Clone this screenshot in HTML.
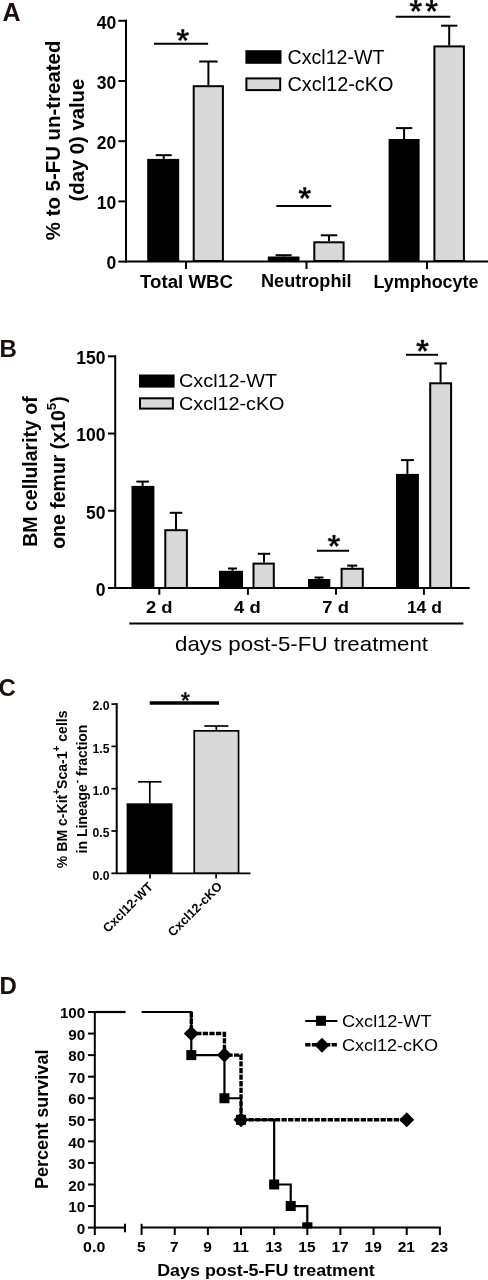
<!DOCTYPE html>
<html><head><meta charset="utf-8"><style>
html,body{margin:0;padding:0;background:#fff;overflow:hidden;}
svg{display:block;will-change:transform;}
text{font-family:"Liberation Sans",sans-serif;}
</style></head><body>
<svg width="488" height="1280" viewBox="0 0 488 1280">
<rect width="488" height="1280" fill="#fff"/>
<text x="2.5" y="20.9" font-size="25" font-weight="bold" text-anchor="start" fill="#1a1010" >A</text>
<line x1="126" y1="19.7" x2="126" y2="262.6" stroke="#000" stroke-width="2" />
<line x1="118.4" y1="261.6" x2="127" y2="261.6" stroke="#000" stroke-width="2" />
<text x="116.3" y="269.3" font-size="17.5" font-weight="bold" text-anchor="end" fill="#000" >0</text>
<line x1="118.4" y1="201.40000000000003" x2="127" y2="201.40000000000003" stroke="#000" stroke-width="2" />
<text x="116.3" y="209.10000000000002" font-size="17.5" font-weight="bold" text-anchor="end" fill="#000" >10</text>
<line x1="118.4" y1="141.20000000000005" x2="127" y2="141.20000000000005" stroke="#000" stroke-width="2" />
<text x="116.3" y="148.90000000000003" font-size="17.5" font-weight="bold" text-anchor="end" fill="#000" >20</text>
<line x1="118.4" y1="81.00000000000003" x2="127" y2="81.00000000000003" stroke="#000" stroke-width="2" />
<text x="116.3" y="88.70000000000003" font-size="17.5" font-weight="bold" text-anchor="end" fill="#000" >30</text>
<line x1="118.4" y1="20.80000000000004" x2="127" y2="20.80000000000004" stroke="#000" stroke-width="2" />
<text x="116.3" y="28.50000000000004" font-size="17.5" font-weight="bold" text-anchor="end" fill="#000" >40</text>
<line x1="125" y1="261.6" x2="488" y2="261.6" stroke="#000" stroke-width="2" />
<line x1="186" y1="261.6" x2="186" y2="269" stroke="#000" stroke-width="2" />
<line x1="306.5" y1="261.6" x2="306.5" y2="269" stroke="#000" stroke-width="2" />
<line x1="427" y1="261.6" x2="427" y2="269" stroke="#000" stroke-width="2" />
<line x1="163.7" y1="158.9" x2="163.7" y2="155.2" stroke="#000" stroke-width="2" />
<line x1="155.7" y1="155.2" x2="171.7" y2="155.2" stroke="#000" stroke-width="2" />
<rect x="147.2" y="158.9" width="32.00" height="103.10" fill="#000"/>
<line x1="208.4" y1="85.2" x2="208.4" y2="61.5" stroke="#000" stroke-width="2" />
<line x1="199.20000000000002" y1="61.5" x2="217.6" y2="61.5" stroke="#000" stroke-width="2" />
<rect x="193.70" y="86.20" width="29.20" height="174.80" fill="#d9d9d9" stroke="#000" stroke-width="2"/>
<line x1="283.6" y1="256.5" x2="283.6" y2="255.2" stroke="#000" stroke-width="2" />
<line x1="275.6" y1="255.2" x2="291.6" y2="255.2" stroke="#000" stroke-width="2" />
<rect x="267.8" y="256.5" width="31.70" height="5.50" fill="#000"/>
<line x1="329" y1="241.3" x2="329" y2="235.3" stroke="#000" stroke-width="2" />
<line x1="320.75" y1="235.3" x2="337.25" y2="235.3" stroke="#000" stroke-width="2" />
<rect x="314.30" y="242.30" width="29.30" height="18.70" fill="#d9d9d9" stroke="#000" stroke-width="2"/>
<line x1="404.1" y1="139" x2="404.1" y2="128.1" stroke="#000" stroke-width="2" />
<line x1="395.90000000000003" y1="128.1" x2="412.3" y2="128.1" stroke="#000" stroke-width="2" />
<rect x="388.6" y="139" width="31.00" height="123.00" fill="#000"/>
<line x1="449.2" y1="45.4" x2="449.2" y2="25.7" stroke="#000" stroke-width="2" />
<line x1="441.05" y1="25.7" x2="457.34999999999997" y2="25.7" stroke="#000" stroke-width="2" />
<rect x="434.40" y="46.40" width="29.50" height="214.60" fill="#d9d9d9" stroke="#000" stroke-width="2"/>
<line x1="154" y1="43.8" x2="208.1" y2="43.8" stroke="#000" stroke-width="2" />
<path d="M183.50,35.30 L184.15,29.50 L181.45,29.50 L182.10,35.30ZM183.02,35.97 L188.73,34.79 L187.90,32.22 L182.58,34.63ZM182.23,35.71 L185.12,40.79 L187.30,39.20 L183.37,34.89ZM182.23,34.89 L178.30,39.20 L180.48,40.79 L183.37,35.71ZM183.02,34.63 L177.70,32.22 L176.87,34.79 L182.58,35.97Z" fill="#000" stroke="#000" stroke-width="0.5" stroke-linejoin="round"/>
<circle cx="182.8" cy="35.3" r="1.30" fill="#000"/>
<line x1="276.4" y1="205.9" x2="331.3" y2="205.9" stroke="#000" stroke-width="2" />
<path d="M305.50,193.20 L306.15,187.40 L303.45,187.40 L304.10,193.20ZM305.02,193.87 L310.73,192.69 L309.90,190.12 L304.58,192.53ZM304.23,193.61 L307.12,198.69 L309.30,197.10 L305.37,192.79ZM304.23,192.79 L300.30,197.10 L302.48,198.69 L305.37,193.61ZM305.02,192.53 L299.70,190.12 L298.87,192.69 L304.58,193.87Z" fill="#000" stroke="#000" stroke-width="0.5" stroke-linejoin="round"/>
<circle cx="304.8" cy="193.2" r="1.30" fill="#000"/>
<line x1="395.7" y1="16.8" x2="450.3" y2="16.8" stroke="#000" stroke-width="2" />
<path d="M416.50,6.10 L417.15,0.30 L414.45,0.30 L415.10,6.10ZM416.02,6.77 L421.73,5.59 L420.90,3.02 L415.58,5.43ZM415.23,6.51 L418.12,11.59 L420.30,10.00 L416.37,5.69ZM415.23,5.69 L411.30,10.00 L413.48,11.59 L416.37,6.51ZM416.02,5.43 L410.70,3.02 L409.87,5.59 L415.58,6.77Z" fill="#000" stroke="#000" stroke-width="0.5" stroke-linejoin="round"/>
<circle cx="415.8" cy="6.1" r="1.30" fill="#000"/>
<path d="M432.30,6.10 L432.95,0.30 L430.25,0.30 L430.90,6.10ZM431.82,6.77 L437.53,5.59 L436.70,3.02 L431.38,5.43ZM431.03,6.51 L433.92,11.59 L436.10,10.00 L432.17,5.69ZM431.03,5.69 L427.10,10.00 L429.28,11.59 L432.17,6.51ZM431.82,5.43 L426.50,3.02 L425.67,5.59 L431.38,6.77Z" fill="#000" stroke="#000" stroke-width="0.5" stroke-linejoin="round"/>
<circle cx="431.6" cy="6.1" r="1.30" fill="#000"/>
<rect x="245.4" y="50.2" width="36.10" height="13.60" fill="#000"/>
<rect x="246.40" y="78.40" width="33.80" height="11.70" fill="#d9d9d9" stroke="#000" stroke-width="2"/>
<text x="287.5" y="63.8" font-size="19.5" font-weight="normal" text-anchor="start" fill="#000" textLength="97" lengthAdjust="spacingAndGlyphs" >Cxcl12-WT</text>
<text x="287.5" y="91.3" font-size="19.5" font-weight="normal" text-anchor="start" fill="#000" textLength="106" lengthAdjust="spacingAndGlyphs" >Cxcl12-cKO</text>
<text x="140" y="287.5" font-size="17.5" font-weight="bold" text-anchor="start" fill="#000" textLength="93" lengthAdjust="spacingAndGlyphs" >Total WBC</text>
<text x="261" y="287" font-size="17.5" font-weight="bold" text-anchor="start" fill="#000" textLength="90.5" lengthAdjust="spacingAndGlyphs" >Neutrophil</text>
<text x="373.5" y="287.7" font-size="17.5" font-weight="bold" text-anchor="start" fill="#000" textLength="105" lengthAdjust="spacingAndGlyphs" >Lymphocyte</text>
<text x="60.3" y="140.4" font-size="20.3" font-weight="bold" text-anchor="middle" fill="#000" textLength="199.5" lengthAdjust="spacingAndGlyphs" transform="rotate(-90 60.3 140.4)" >% to 5-FU un-treated</text>
<text x="83.6" y="140.1" font-size="20.3" font-weight="bold" text-anchor="middle" fill="#000" textLength="122.6" lengthAdjust="spacingAndGlyphs" transform="rotate(-90 83.6 140.1)" >(day 0) value</text>
<text x="-0.5" y="356.6" font-size="24" font-weight="bold" text-anchor="start" fill="#1a1010" >B</text>
<line x1="115.2" y1="355.4" x2="115.2" y2="589" stroke="#000" stroke-width="2" />
<line x1="108" y1="588.0" x2="116" y2="588.0" stroke="#000" stroke-width="2" />
<text x="105.5" y="595.9" font-size="17.5" font-weight="bold" text-anchor="end" fill="#000" >0</text>
<line x1="108" y1="510.765" x2="116" y2="510.765" stroke="#000" stroke-width="2" />
<text x="105.5" y="518.665" font-size="17.5" font-weight="bold" text-anchor="end" fill="#000" >50</text>
<line x1="108" y1="433.53" x2="116" y2="433.53" stroke="#000" stroke-width="2" />
<text x="105.5" y="441.42999999999995" font-size="17.5" font-weight="bold" text-anchor="end" fill="#000" >100</text>
<line x1="108" y1="356.295" x2="116" y2="356.295" stroke="#000" stroke-width="2" />
<text x="105.5" y="364.195" font-size="17.5" font-weight="bold" text-anchor="end" fill="#000" >150</text>
<line x1="114.2" y1="588" x2="469.7" y2="588" stroke="#000" stroke-width="2" />
<line x1="159.3" y1="588" x2="159.3" y2="594.8" stroke="#000" stroke-width="2" />
<line x1="247.9" y1="588" x2="247.9" y2="594.8" stroke="#000" stroke-width="2" />
<line x1="336" y1="588" x2="336" y2="594.8" stroke="#000" stroke-width="2" />
<line x1="423.9" y1="588" x2="423.9" y2="594.8" stroke="#000" stroke-width="2" />
<line x1="142.6" y1="485.9" x2="142.6" y2="481.6" stroke="#000" stroke-width="2" />
<line x1="136.35" y1="481.6" x2="148.85" y2="481.6" stroke="#000" stroke-width="2" />
<rect x="131.5" y="485.9" width="22.90" height="103.10" fill="#000"/>
<line x1="176" y1="529.2" x2="176" y2="512.8" stroke="#000" stroke-width="2" />
<line x1="169.75" y1="512.8" x2="182.25" y2="512.8" stroke="#000" stroke-width="2" />
<rect x="165.30" y="530.20" width="21.60" height="57.80" fill="#d9d9d9" stroke="#000" stroke-width="2"/>
<line x1="232.5" y1="570.8" x2="232.5" y2="568.5" stroke="#000" stroke-width="2" />
<line x1="228.0" y1="568.5" x2="237.0" y2="568.5" stroke="#000" stroke-width="2" />
<rect x="219" y="570.8" width="24.00" height="18.20" fill="#000"/>
<line x1="264" y1="562.6" x2="264" y2="553.8" stroke="#000" stroke-width="2" />
<line x1="257.75" y1="553.8" x2="270.25" y2="553.8" stroke="#000" stroke-width="2" />
<rect x="253.50" y="563.60" width="20.30" height="24.40" fill="#d9d9d9" stroke="#000" stroke-width="2"/>
<line x1="319" y1="579" x2="319" y2="577.5" stroke="#000" stroke-width="2" />
<line x1="314.5" y1="577.5" x2="323.5" y2="577.5" stroke="#000" stroke-width="2" />
<rect x="308" y="579" width="22.30" height="10.00" fill="#000"/>
<line x1="352.2" y1="567.8" x2="352.2" y2="565.6" stroke="#000" stroke-width="2" />
<line x1="347.2" y1="565.6" x2="357.2" y2="565.6" stroke="#000" stroke-width="2" />
<rect x="341.60" y="568.80" width="21.20" height="19.20" fill="#d9d9d9" stroke="#000" stroke-width="2"/>
<line x1="407.4" y1="473.9" x2="407.4" y2="460.1" stroke="#000" stroke-width="2" />
<line x1="400.9" y1="460.1" x2="413.9" y2="460.1" stroke="#000" stroke-width="2" />
<rect x="396" y="473.9" width="22.90" height="115.10" fill="#000"/>
<line x1="440.6" y1="382.3" x2="440.6" y2="363.4" stroke="#000" stroke-width="2" />
<line x1="434.25" y1="363.4" x2="446.95000000000005" y2="363.4" stroke="#000" stroke-width="2" />
<rect x="430.20" y="383.30" width="20.90" height="204.70" fill="#d9d9d9" stroke="#000" stroke-width="2"/>
<line x1="316.9" y1="550.8" x2="349" y2="550.8" stroke="#000" stroke-width="2" />
<path d="M334.70,541.10 L335.35,535.30 L332.65,535.30 L333.30,541.10ZM334.22,541.77 L339.93,540.59 L339.10,538.02 L333.78,540.43ZM333.43,541.51 L336.32,546.59 L338.50,545.00 L334.57,540.69ZM333.43,540.69 L329.50,545.00 L331.68,546.59 L334.57,541.51ZM334.22,540.43 L328.90,538.02 L328.07,540.59 L333.78,541.77Z" fill="#000" stroke="#000" stroke-width="0.5" stroke-linejoin="round"/>
<circle cx="334" cy="541.1" r="1.30" fill="#000"/>
<line x1="406" y1="354.8" x2="438" y2="354.8" stroke="#000" stroke-width="2" />
<path d="M423.20,345.90 L423.85,340.10 L421.15,340.10 L421.80,345.90ZM422.72,346.57 L428.43,345.39 L427.60,342.82 L422.28,345.23ZM421.93,346.31 L424.82,351.39 L427.00,349.80 L423.07,345.49ZM421.93,345.49 L418.00,349.80 L420.18,351.39 L423.07,346.31ZM422.72,345.23 L417.40,342.82 L416.57,345.39 L422.28,346.57Z" fill="#000" stroke="#000" stroke-width="0.5" stroke-linejoin="round"/>
<circle cx="422.5" cy="345.9" r="1.30" fill="#000"/>
<rect x="139" y="374.5" width="35.60" height="13.10" fill="#000"/>
<rect x="140.00" y="398.30" width="32.90" height="10.30" fill="#d9d9d9" stroke="#000" stroke-width="2"/>
<text x="179" y="387.3" font-size="18.5" font-weight="normal" text-anchor="start" fill="#000" textLength="98" lengthAdjust="spacingAndGlyphs" >Cxcl12-WT</text>
<text x="179" y="409.8" font-size="18.5" font-weight="normal" text-anchor="start" fill="#000" textLength="105.5" lengthAdjust="spacingAndGlyphs" >Cxcl12-cKO</text>
<text x="159.2" y="612.7" font-size="17" font-weight="bold" text-anchor="middle" fill="#000" textLength="26.6" lengthAdjust="spacingAndGlyphs" >2 d</text>
<text x="247.4" y="612.7" font-size="17" font-weight="bold" text-anchor="middle" fill="#000" textLength="26.6" lengthAdjust="spacingAndGlyphs" >4 d</text>
<text x="335.6" y="612.7" font-size="17" font-weight="bold" text-anchor="middle" fill="#000" textLength="26.6" lengthAdjust="spacingAndGlyphs" >7 d</text>
<text x="424.4" y="612.7" font-size="17" font-weight="bold" text-anchor="middle" fill="#000" textLength="35" lengthAdjust="spacingAndGlyphs" >14 d</text>
<line x1="129.3" y1="623.6" x2="463.4" y2="623.6" stroke="#000" stroke-width="2" />
<text x="175" y="650.8" font-size="20.6" font-weight="normal" text-anchor="start" fill="#000" textLength="253" lengthAdjust="spacingAndGlyphs" >days post-5-FU treatment</text>
<text x="37.4" y="471.5" font-size="20" font-weight="bold" text-anchor="middle" fill="#000" textLength="150.5" lengthAdjust="spacingAndGlyphs" transform="rotate(-90 37.4 471.5)" >BM cellularity of</text>
<text x="65.2" y="472.5" font-size="19.5" font-weight="bold" text-anchor="middle" fill="#000" transform="rotate(-90 65.2 472.5)" >one femur (x10<tspan dy="-9.4" font-size="13.5">5</tspan><tspan dy="9.4">)</tspan></text>
<text x="-1.5" y="696" font-size="24" font-weight="bold" text-anchor="start" fill="#1a1010" >C</text>
<line x1="116.7" y1="703.3" x2="116.7" y2="874" stroke="#000" stroke-width="2" />
<line x1="111.4" y1="873.3" x2="117.5" y2="873.3" stroke="#000" stroke-width="1.7" />
<text x="109.5" y="879.5999999999999" font-size="12.2" font-weight="bold" text-anchor="end" fill="#000" >0.0</text>
<line x1="111.4" y1="831.0" x2="117.5" y2="831.0" stroke="#000" stroke-width="1.7" />
<text x="109.5" y="837.3" font-size="12.2" font-weight="bold" text-anchor="end" fill="#000" >0.5</text>
<line x1="111.4" y1="788.6999999999999" x2="117.5" y2="788.6999999999999" stroke="#000" stroke-width="1.7" />
<text x="109.5" y="794.9999999999999" font-size="12.2" font-weight="bold" text-anchor="end" fill="#000" >1.0</text>
<line x1="111.4" y1="746.4" x2="117.5" y2="746.4" stroke="#000" stroke-width="1.7" />
<text x="109.5" y="752.6999999999999" font-size="12.2" font-weight="bold" text-anchor="end" fill="#000" >1.5</text>
<line x1="111.4" y1="704.0999999999999" x2="117.5" y2="704.0999999999999" stroke="#000" stroke-width="1.7" />
<text x="109.5" y="710.3999999999999" font-size="12.2" font-weight="bold" text-anchor="end" fill="#000" >2.0</text>
<line x1="116" y1="873.3" x2="250.5" y2="873.3" stroke="#000" stroke-width="1.7" />
<line x1="150" y1="873.3" x2="150" y2="878.6" stroke="#000" stroke-width="1.7" />
<line x1="216.1" y1="873.3" x2="216.1" y2="878.6" stroke="#000" stroke-width="1.7" />
<line x1="149.8" y1="803.3" x2="149.8" y2="781.8" stroke="#000" stroke-width="1.7" />
<line x1="138.05" y1="781.8" x2="161.55" y2="781.8" stroke="#000" stroke-width="1.7" />
<rect x="126.6" y="803.3" width="45.90" height="70.70" fill="#000"/>
<line x1="216.3" y1="730" x2="216.3" y2="726" stroke="#000" stroke-width="1.7" />
<line x1="204.3" y1="726" x2="228.3" y2="726" stroke="#000" stroke-width="1.7" />
<rect x="194.25" y="730.85" width="44.30" height="142.30" fill="#d9d9d9" stroke="#000" stroke-width="1.7"/>
<line x1="149.7" y1="703" x2="219" y2="703" stroke="#000" stroke-width="3.3" />
<path d="M185.85,696.70 L186.31,692.53 L184.39,692.53 L184.85,696.70ZM185.50,697.17 L189.62,696.32 L189.02,694.50 L185.20,696.23ZM184.95,696.99 L187.03,700.64 L188.58,699.51 L185.75,696.41ZM184.95,696.41 L182.12,699.51 L183.67,700.64 L185.75,696.99ZM185.50,696.23 L181.68,694.50 L181.08,696.32 L185.20,697.17Z" fill="#000" stroke="#000" stroke-width="0.5" stroke-linejoin="round"/>
<circle cx="185.35" cy="696.7" r="0.93" fill="#000"/>
<text x="67.2" y="789.3" font-size="14.05" font-weight="bold" text-anchor="middle" fill="#000" transform="rotate(-90 67.2 789.3)" >% BM c-Kit<tspan dy="-7.6" font-size="10">+</tspan><tspan dy="7.6">Sca-1</tspan><tspan dy="-7.6" font-size="10">+</tspan><tspan dy="7.6"> cells</tspan></text>
<text x="87" y="789" font-size="14.0" font-weight="bold" text-anchor="middle" fill="#000" transform="rotate(-90 87 789)" >in Lineage<tspan dx="1" dy="-6.6" font-size="10">-</tspan><tspan dy="6.6"> fraction</tspan></text>
<text x="153.6" y="887.6" font-size="12.6" font-weight="bold" text-anchor="end" fill="#000" transform="rotate(-45 153.6 887.6)" >Cxcl12-WT</text>
<text x="223" y="887.2" font-size="12.6" font-weight="bold" text-anchor="end" fill="#000" transform="rotate(-45 223 887.2)" >Cxcl12-cKO</text>
<text x="-0.5" y="993.6" font-size="24" font-weight="bold" text-anchor="start" fill="#1a1010" >D</text>
<line x1="94.8" y1="1011" x2="94.8" y2="1235" stroke="#000" stroke-width="2" />
<line x1="88" y1="1227.6" x2="95.5" y2="1227.6" stroke="#000" stroke-width="2" />
<text x="85.3" y="1233.8" font-size="15.5" font-weight="bold" text-anchor="end" fill="#000" textLength="8.46" lengthAdjust="spacingAndGlyphs" >0</text>
<line x1="88" y1="1206.04" x2="95.5" y2="1206.04" stroke="#000" stroke-width="2" />
<text x="85.3" y="1212.24" font-size="15.5" font-weight="bold" text-anchor="end" fill="#000" textLength="16.94" lengthAdjust="spacingAndGlyphs" >10</text>
<line x1="88" y1="1184.48" x2="95.5" y2="1184.48" stroke="#000" stroke-width="2" />
<text x="85.3" y="1190.68" font-size="15.5" font-weight="bold" text-anchor="end" fill="#000" textLength="16.94" lengthAdjust="spacingAndGlyphs" >20</text>
<line x1="88" y1="1162.9199999999998" x2="95.5" y2="1162.9199999999998" stroke="#000" stroke-width="2" />
<text x="85.3" y="1169.12" font-size="15.5" font-weight="bold" text-anchor="end" fill="#000" textLength="16.94" lengthAdjust="spacingAndGlyphs" >30</text>
<line x1="88" y1="1141.36" x2="95.5" y2="1141.36" stroke="#000" stroke-width="2" />
<text x="85.3" y="1147.56" font-size="15.5" font-weight="bold" text-anchor="end" fill="#000" textLength="16.94" lengthAdjust="spacingAndGlyphs" >40</text>
<line x1="88" y1="1119.8" x2="95.5" y2="1119.8" stroke="#000" stroke-width="2" />
<text x="85.3" y="1126.0" font-size="15.5" font-weight="bold" text-anchor="end" fill="#000" textLength="16.94" lengthAdjust="spacingAndGlyphs" >50</text>
<line x1="88" y1="1098.2399999999998" x2="95.5" y2="1098.2399999999998" stroke="#000" stroke-width="2" />
<text x="85.3" y="1104.4399999999998" font-size="15.5" font-weight="bold" text-anchor="end" fill="#000" textLength="16.94" lengthAdjust="spacingAndGlyphs" >60</text>
<line x1="88" y1="1076.6799999999998" x2="95.5" y2="1076.6799999999998" stroke="#000" stroke-width="2" />
<text x="85.3" y="1082.8799999999999" font-size="15.5" font-weight="bold" text-anchor="end" fill="#000" textLength="16.94" lengthAdjust="spacingAndGlyphs" >70</text>
<line x1="88" y1="1055.12" x2="95.5" y2="1055.12" stroke="#000" stroke-width="2" />
<text x="85.3" y="1061.32" font-size="15.5" font-weight="bold" text-anchor="end" fill="#000" textLength="16.94" lengthAdjust="spacingAndGlyphs" >80</text>
<line x1="88" y1="1033.56" x2="95.5" y2="1033.56" stroke="#000" stroke-width="2" />
<text x="85.3" y="1039.76" font-size="15.5" font-weight="bold" text-anchor="end" fill="#000" textLength="16.94" lengthAdjust="spacingAndGlyphs" >90</text>
<line x1="88" y1="1011.9999999999999" x2="95.5" y2="1011.9999999999999" stroke="#000" stroke-width="2" />
<text x="85.3" y="1018.1999999999999" font-size="15.5" font-weight="bold" text-anchor="end" fill="#000" textLength="25.4" lengthAdjust="spacingAndGlyphs" >100</text>
<line x1="94" y1="1227.6" x2="125" y2="1227.6" stroke="#000" stroke-width="2" />
<line x1="125" y1="1223.8" x2="125" y2="1232.2" stroke="#000" stroke-width="2" />
<line x1="141.6" y1="1227.6" x2="440.8" y2="1227.6" stroke="#000" stroke-width="2" />
<line x1="141.6" y1="1223.8" x2="141.6" y2="1235" stroke="#000" stroke-width="2" />
<line x1="174.74" y1="1227.6" x2="174.74" y2="1235" stroke="#000" stroke-width="2" />
<line x1="207.88" y1="1227.6" x2="207.88" y2="1235" stroke="#000" stroke-width="2" />
<line x1="241.01999999999998" y1="1227.6" x2="241.01999999999998" y2="1235" stroke="#000" stroke-width="2" />
<line x1="274.15999999999997" y1="1227.6" x2="274.15999999999997" y2="1235" stroke="#000" stroke-width="2" />
<line x1="307.29999999999995" y1="1227.6" x2="307.29999999999995" y2="1235" stroke="#000" stroke-width="2" />
<line x1="340.44" y1="1227.6" x2="340.44" y2="1235" stroke="#000" stroke-width="2" />
<line x1="373.58000000000004" y1="1227.6" x2="373.58000000000004" y2="1235" stroke="#000" stroke-width="2" />
<line x1="406.72" y1="1227.6" x2="406.72" y2="1235" stroke="#000" stroke-width="2" />
<line x1="439.86" y1="1227.6" x2="439.86" y2="1235" stroke="#000" stroke-width="2" />
<text x="83.1" y="1251.7" font-size="15.5" font-weight="bold" text-anchor="start" fill="#000" textLength="22.18" lengthAdjust="spacingAndGlyphs" >0.0</text>
<text x="141.2" y="1251.7" font-size="15.5" font-weight="bold" text-anchor="middle" fill="#000" textLength="8.62" lengthAdjust="spacingAndGlyphs" >5</text>
<text x="174.34" y="1251.7" font-size="15.5" font-weight="bold" text-anchor="middle" fill="#000" textLength="8.62" lengthAdjust="spacingAndGlyphs" >7</text>
<text x="207.48" y="1251.7" font-size="15.5" font-weight="bold" text-anchor="middle" fill="#000" textLength="8.62" lengthAdjust="spacingAndGlyphs" >9</text>
<text x="240.61999999999998" y="1251.7" font-size="15.5" font-weight="bold" text-anchor="middle" fill="#000" textLength="16.4" lengthAdjust="spacingAndGlyphs" >11</text>
<text x="273.76" y="1251.7" font-size="15.5" font-weight="bold" text-anchor="middle" fill="#000" textLength="17.26" lengthAdjust="spacingAndGlyphs" >13</text>
<text x="306.9" y="1251.7" font-size="15.5" font-weight="bold" text-anchor="middle" fill="#000" textLength="17.26" lengthAdjust="spacingAndGlyphs" >15</text>
<text x="340.04" y="1251.7" font-size="15.5" font-weight="bold" text-anchor="middle" fill="#000" textLength="17.26" lengthAdjust="spacingAndGlyphs" >17</text>
<text x="373.18000000000006" y="1251.7" font-size="15.5" font-weight="bold" text-anchor="middle" fill="#000" textLength="17.26" lengthAdjust="spacingAndGlyphs" >19</text>
<text x="406.32000000000005" y="1251.7" font-size="15.5" font-weight="bold" text-anchor="middle" fill="#000" textLength="17.26" lengthAdjust="spacingAndGlyphs" >21</text>
<text x="439.46000000000004" y="1251.7" font-size="15.5" font-weight="bold" text-anchor="middle" fill="#000" textLength="17.26" lengthAdjust="spacingAndGlyphs" >23</text>
<text x="157.2" y="1275.5" font-size="17" font-weight="bold" text-anchor="start" fill="#000" textLength="217.6" lengthAdjust="spacingAndGlyphs" >Days post-5-FU treatment</text>
<text x="48.1" y="1119.3" font-size="17.5" font-weight="bold" text-anchor="middle" fill="#000" textLength="139.5" lengthAdjust="spacingAndGlyphs" transform="rotate(-90 48.1 1119.3)" >Percent survival</text>
<polyline points="94.8,1011.9999999999999 125.6,1011.9999999999999" fill="none" stroke="#000" stroke-width="2.2"/>
<polyline points="141.60,1012.00 191.31,1012.00 191.31,1055.12 224.45,1055.12 224.45,1098.24 241.02,1098.24 241.02,1119.80 274.16,1119.80 274.16,1184.48 290.73,1184.48 290.73,1206.04 307.30,1206.04 307.30,1227.60" fill="none" stroke="#000" stroke-width="2.2"/>
<polyline points="191.31,1012.00 191.31,1033.56 224.45,1033.56 224.45,1055.12 241.02,1055.12 241.02,1119.80 406.72,1119.80" fill="none" stroke="#000" stroke-width="3.4" stroke-dasharray="5.3 1.3"/>
<rect x="186.31" y="1050.12" width="10.00" height="10.00" fill="#000"/>
<rect x="219.45" y="1093.2399999999998" width="10.00" height="10.00" fill="#000"/>
<rect x="236.01999999999998" y="1114.8" width="10.00" height="10.00" fill="#000"/>
<rect x="269.15999999999997" y="1179.48" width="10.00" height="10.00" fill="#000"/>
<rect x="285.73" y="1201.04" width="10.00" height="10.00" fill="#000"/>
<rect x="302.19999999999993" y="1222.3" width="10.20" height="6.20" fill="#000"/>
<polygon points="183.81,1033.56 191.31,1026.06 198.81,1033.56 191.31,1041.06" fill="#000"/>
<polygon points="216.95,1055.12 224.45,1047.62 231.95,1055.12 224.45,1062.62" fill="#000"/>
<polygon points="233.51999999999998,1119.8 241.01999999999998,1112.3 248.51999999999998,1119.8 241.01999999999998,1127.3" fill="#000"/>
<polygon points="399.22,1119.8 406.72,1112.3 414.22,1119.8 406.72,1127.3" fill="#000"/>
<line x1="305.2" y1="1020.9" x2="337.4" y2="1020.9" stroke="#000" stroke-width="2" />
<rect x="316.0" y="1015.8" width="10.00" height="10.00" fill="#000"/>
<line x1="305.2" y1="1044.8" x2="337.4" y2="1044.8" stroke="#000" stroke-width="3.4" stroke-dasharray="5.3 1.3"/>
<polygon points="314.5,1045.3 322,1037.8 329.5,1045.3 322,1052.8" fill="#000"/>
<text x="342" y="1026.6" font-size="16" font-weight="normal" text-anchor="start" fill="#000" textLength="89.5" lengthAdjust="spacingAndGlyphs" >Cxcl12-WT</text>
<text x="342" y="1051" font-size="16" font-weight="normal" text-anchor="start" fill="#000" textLength="96" lengthAdjust="spacingAndGlyphs" >Cxcl12-cKO</text>
</svg>
</body></html>
